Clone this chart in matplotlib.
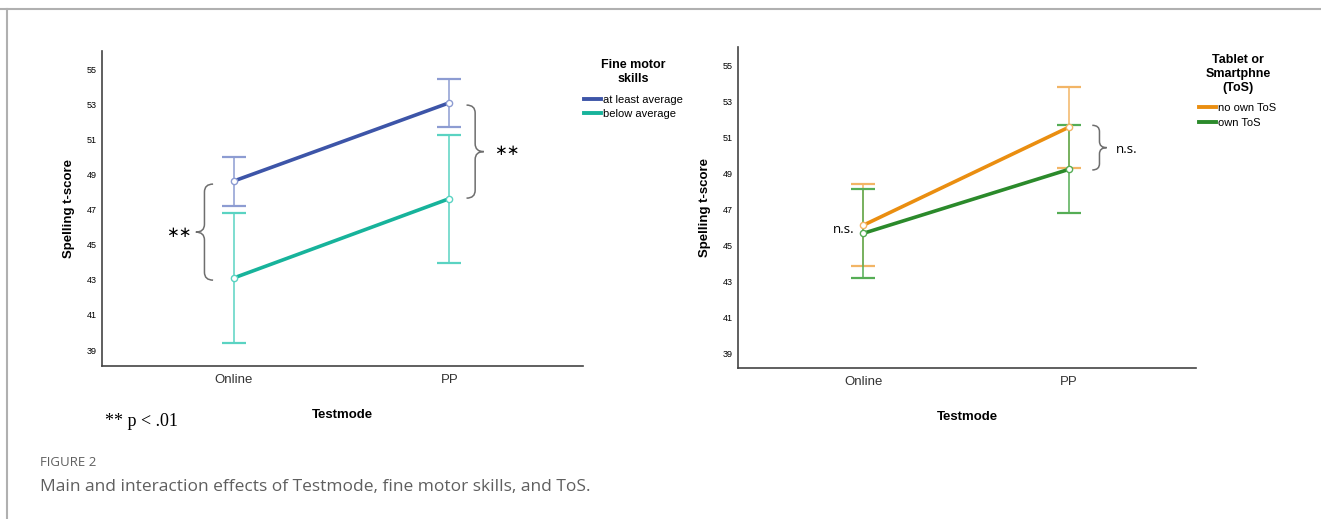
import matplotlib
matplotlib.use("Agg")
import matplotlib.pyplot as plt
from matplotlib.lines import Line2D
from matplotlib.path import Path
from matplotlib.patches import PathPatch

W, H = 1321, 519

# --- data ---
testmodes = ["Online", "PP"]
yticks = [39, 41, 43, 45, 47, 49, 51, 53, 55]

# left panel: fine motor skills
fms_labels = ["at least average", "below average"]
fms_mean = [[48.62, 53.08], [43.10, 47.62]]
fms_low = [[47.22, 51.70], [39.38, 43.97]]
fms_high = [[50.00, 54.45], [46.80, 51.26]]

# right panel: tablet or smartphone
tos_labels = ["no own ToS", "own ToS"]
tos_mean = [[46.10, 51.54], [45.65, 49.20]]
tos_low = [[43.83, 49.30], [43.17, 46.78]]
tos_high = [[48.37, 53.78], [48.10, 51.65]]

fms_colors = ["#3d55a8", "#17b39b"]
fms_err = ["#8d9cd2", "#5ad3c2"]
tos_colors = ["#ea8e10", "#2b8a2b"]
tos_err = ["#f2b566", "#55ad55"]

narrow = ["Liberation Sans Narrow", "Liberation Sans", "DejaVu Sans"]
sans = ["Liberation Sans", "DejaVu Sans"]


def fx(px):
    return px / W


def fy(py):
    return 1 - py / H


def brace(ax, x, y0, y1, w, d, r=0.45):
    # curly bracket between y0 and y1, cusp pointing toward +d*x
    ym = (y0 + y1) / 2
    verts = [(x - d * w, y1), (x, y1), (x, y1 - r), (x, ym + r),
             (x, ym), (x + d * w, ym), (x, ym), (x, ym - r),
             (x, y0 + r), (x, y0), (x - d * w, y0)]
    codes = [Path.MOVETO, Path.CURVE3, Path.CURVE3, Path.LINETO,
             Path.CURVE3, Path.CURVE3, Path.CURVE3, Path.CURVE3,
             Path.LINETO, Path.CURVE3, Path.CURVE3]
    ax.add_patch(PathPatch(Path(verts, codes), fc="none", ec="#6e6e6e", lw=1.1))


def panel(ax, means, lows, highs, colors, ecolors, labels, title, leg_xy):
    xs = list(range(len(testmodes)))
    for m, lo, hi, c, ec, lab in zip(means, lows, highs, colors, ecolors, labels):
        ax.errorbar(xs, m, yerr=[[a - b for a, b in zip(m, lo)], [b - a for a, b in zip(m, hi)]],
                    fmt="none", ecolor=ec, elinewidth=1.1, capsize=8.5, capthick=1.6, zorder=2)
        ax.plot(xs, m, color=c, lw=2.6, zorder=3, label=lab)
        ax.plot(xs, m, ls="none", marker="o", ms=4.5, mfc="white", mec=ec, mew=1.0, zorder=4)
    ax.set_xlim(-0.61, 1.62)
    ax.set_yticks(yticks)
    ax.set_yticklabels([str(t) for t in yticks], family=narrow, fontsize=6.5)
    ax.set_xticks(xs)
    ax.set_xticklabels(testmodes, family=narrow, fontsize=9.5, color="#333333")
    ax.tick_params(length=0, pad=4)
    ax.tick_params(axis="x", pad=6)
    for s in ["top", "right"]:
        ax.spines[s].set_visible(False)
    for s in ["left", "bottom"]:
        ax.spines[s].set_color("#444444")
        ax.spines[s].set_linewidth(1.2)
    ax.set_xlabel("Testmode", family=sans, fontsize=9.5, fontweight="bold", labelpad=16)
    ax.set_ylabel("Spelling t-score", family=sans, fontsize=9.5, fontweight="bold", labelpad=8)
    handles = [Line2D([], [], color=c, lw=2.8) for c in colors]
    leg = ax.legend(handles, labels, title=title, loc="upper left",
                    bbox_to_anchor=(fx(leg_xy[0]), fy(leg_xy[1])), bbox_transform=ax.figure.transFigure,
                    frameon=False, handlelength=1.5, handletextpad=0.25, labelspacing=0.4,
                    borderaxespad=0, borderpad=0, alignment="center",
                    prop={"family": narrow, "size": 8},
                    title_fontproperties={"family": sans, "size": 9, "weight": "bold"})
    leg.get_title().set_multialignment("center")
    leg._legend_box.sep = 7


fig = plt.figure(figsize=(W / 100, H / 100), dpi=100)

ax1 = fig.add_axes([fx(102), fy(366), fx(583 - 102), (366 - 51) / H])
ax1.set_ylim(38.09, 56.03)
panel(ax1, fms_mean, fms_low, fms_high, fms_colors, fms_err, fms_labels,
      "Fine motor\nskills", (584, 59))
brace(ax1, -0.135, 42.98, 48.45, 0.04, -1)
ax1.text(-0.255, 45.7, "\u2217\u2217", ha="center", va="center", fontsize=11, family=["DejaVu Sans"])
brace(ax1, 1.12, 47.65, 52.95, 0.04, 1)
ax1.text(1.265, 50.35, "\u2217\u2217", ha="center", va="center", fontsize=11, family=["DejaVu Sans"])

ax2 = fig.add_axes([fx(738), fy(368), fx(1196 - 738), (368 - 47) / H])
ax2.set_ylim(38.17, 56.0)
panel(ax2, tos_mean, tos_low, tos_high, tos_colors, tos_err, tos_labels,
      "Tablet or\nSmartphne\n(ToS)", (1199, 54))
brace(ax2, 1.15, 49.17, 51.65, 0.035, 1, r=0.35)
ax2.text(1.23, 50.3, "n.s.", ha="left", va="center", fontsize=9.5, family=["Open Sans", "DejaVu Sans"])
ax2.text(-0.045, 45.85, "n.s.", ha="right", va="center", fontsize=9.5, family=["Open Sans", "DejaVu Sans"])

fig.text(fx(105), fy(421), "** p < .01", family=["Liberation Serif", "DejaVu Serif"],
         fontsize=13, va="center", ha="left")
fig.text(fx(40), fy(463), "FIGURE 2", family=["Open Sans", "DejaVu Sans"], fontsize=9.5,
         color="#5f5f5f", va="center", ha="left")
fig.text(fx(40), fy(487), "Main and interaction effects of Testmode, fine motor skills, and ToS.",
         family=["Open Sans", "DejaVu Sans"], fontsize=12.5, color="#5f5f5f", va="center", ha="left")

# frame around the figure panel
fig.add_artist(Line2D([0, 1], [fy(9), fy(9)], transform=fig.transFigure, color="#b0b0b0", lw=1.5))
fig.add_artist(Line2D([fx(7), fx(7)], [fy(9), 0], transform=fig.transFigure, color="#b0b0b0", lw=1.5))

fig.savefig("out.png", dpi=100)
